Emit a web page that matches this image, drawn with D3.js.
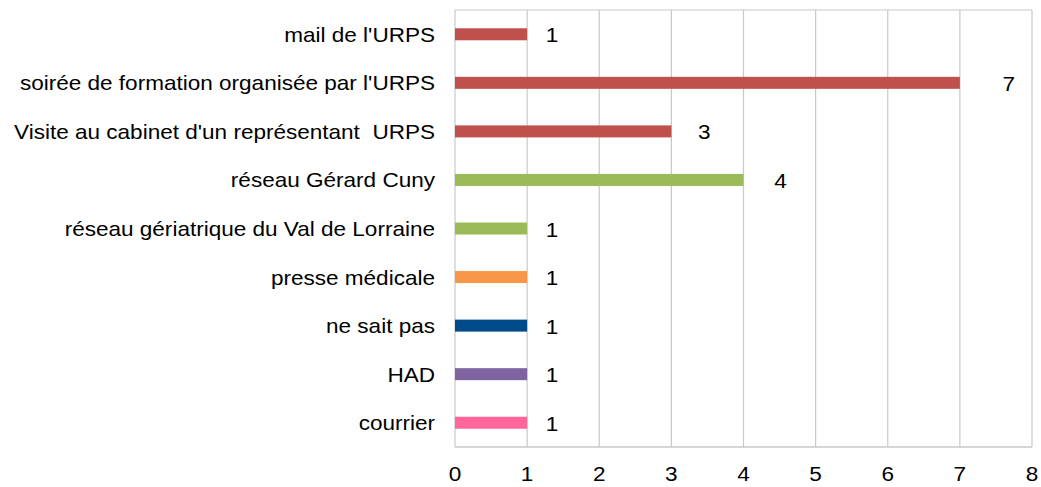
<!DOCTYPE html>
<html>
<head>
<meta charset="utf-8">
<script src="https://cdn.jsdelivr.net/npm/d3@7"></script>
<style>
  body { margin: 0; background: #fff; }
  text { font-family: "Liberation Sans", Arial, sans-serif; fill: #000; white-space: pre; }
</style>
</head>
<body>
<div class="canvas"></div>
<script>
// data
const categories = [
  "mail de l'URPS",
  "soirée de formation organisée par l'URPS",
  "Visite au cabinet d'un représentant  URPS",
  "réseau Gérard Cuny",
  "réseau gériatrique du Val de Lorraine",
  "presse médicale",
  "ne sait pas",
  "HAD",
  "courrier"
];
const values = [1, 7, 3, 4, 1, 1, 1, 1, 1];
const colors = ["#C0504D", "#C0504D", "#C0504D", "#9BBB59", "#9BBB59", "#F79646", "#004A8A", "#8064A2", "#FF6699"];
const ticks = [0, 1, 2, 3, 4, 5, 6, 7, 8];

var svg = d3.select(".canvas").append("svg").attr("width", 1041).attr("height", 487);

let pLeft = 455, pRight = 1032, pTop = 10, pBottom = 447;
let fs = 20.5, sx = 1.1;   // text is a bit wider than plain Arial

let x = d3.scaleLinear().domain([0, 8]).range([pLeft, pRight]);
let y = d3.scaleBand().domain(categories).range([pTop, pBottom]);

// grid
svg.selectAll(".grid")
    .data(ticks)
    .enter()
    .append("line")
    .attr("x1", d => x(d)).attr("x2", d => x(d))
    .attr("y1", pTop).attr("y2", pBottom)
    .attr("stroke", "#c8c8c8")
    .attr("stroke-width", 1.2);

// frame top / bottom
svg.append("line").attr("x1", pLeft).attr("x2", pRight).attr("y1", pTop).attr("y2", pTop)
    .attr("stroke", "#c8c8c8").attr("stroke-width", 1.2);
svg.append("line").attr("x1", pLeft).attr("x2", pRight).attr("y1", pBottom).attr("y2", pBottom)
    .attr("stroke", "#c8c8c8").attr("stroke-width", 1.5);

// bars
let barH = 12;
svg.selectAll(".bar")
    .data(values)
    .enter()
    .append("rect")
    .attr("x", x(0))
    .attr("y", (d, i) => y(categories[i]) + y.bandwidth() / 2 - barH / 2)
    .attr("width", d => x(d) - x(0))
    .attr("height", barH)
    .style("fill", (d, i) => colors[i]);

// value labels
svg.selectAll(".lbl")
    .data(values)
    .enter()
    .append("text")
    .text(d => d)
    .attr("transform", (d, i) => "translate(" + (x(d) + 21 + d * 4) + "," + (y(categories[i]) + y.bandwidth() / 2 + 8) + ") scale(" + sx + ",1)")
    .attr("font-size", fs)
    .style("text-anchor", "middle");

// category labels
svg.selectAll(".cat")
    .data(categories)
    .enter()
    .append("text")
    .text(d => d)
    .attr("transform", d => "translate(435," + (y(d) + y.bandwidth() / 2 + 7.5) + ") scale(" + sx + ",1)")
    .attr("font-size", fs)
    .style("text-anchor", "end");

// x tick labels
svg.selectAll(".tick")
    .data(ticks)
    .enter()
    .append("text")
    .text(d => d)
    .attr("transform", d => "translate(" + x(d) + ",481) scale(" + sx + ",1)")
    .attr("font-size", fs)
    .style("text-anchor", "middle");
</script>
</body>
</html>
